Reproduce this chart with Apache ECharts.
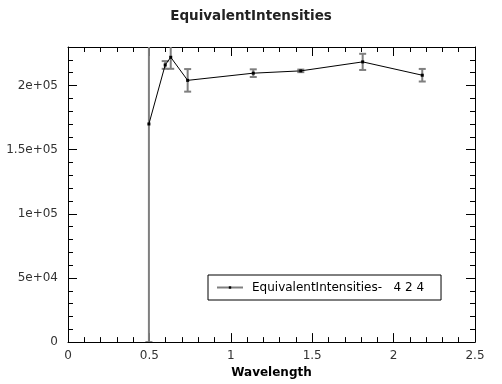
<!DOCTYPE html>
<html>
<head>
<meta charset="utf-8">
<script src="https://cdn.jsdelivr.net/npm/echarts@6/dist/echarts.min.js"></script>
<style>html,body{margin:0;padding:0;background:#fff}#c{width:502px;height:384px}</style>
</head>
<body>
<div id="c"></div>
<script>
const seriesName = 'EquivalentIntensities-   4 2 4';
const wavelength = [0.497, 0.597, 0.631, 0.735, 1.138, 1.43, 1.81, 2.176];
const intensity  = [170000, 216000, 222000, 204000, 209600, 211400, 218400, 208000];
const errors     = [170000, 3000, 9000, 8800, 3000, 1000, 6300, 4900];
const yTickValues = [0, 50000, 100000, 150000, 200000];
const yTickLabels = ['0', '5e+04', '1e+05', '1.5e+05', '2e+05'];
const xTickValues = [0, 0.5, 1, 1.5, 2, 2.5];
const xTickLabels = ['0', '0.5', '1', '1.5', '2', '2.5'];

const FONT = 'DejaVu Sans';
const chart = echarts.init(document.getElementById('c'));

const points = wavelength.map((x, i) => [x, intensity[i]]);
const errData = wavelength.map((x, i) => [x, intensity[i] - errors[i], intensity[i] + errors[i]]);

function yFmt(v) { const i = yTickValues.indexOf(v); return i >= 0 ? yTickLabels[i] : ''; }
function xFmt(v) { const i = xTickValues.findIndex(t => Math.abs(t - v) < 1e-9); return i >= 0 ? xTickLabels[i] : ''; }

const tickStyle = { lineStyle: { color: '#000', width: 1 } };
const baseX = {
  type: 'value', min: 0, max: 2.5, interval: 0.5,
  axisLine: { show: true, onZero: false, lineStyle: { color: '#000', width: 1 } },
  axisTick: { show: true, inside: true, length: 9, ...tickStyle },
  minorTick: { show: true, splitNumber: 5, length: 5, ...tickStyle },
  splitLine: { show: false }
};
const baseY = {
  type: 'value', min: 0, max: 230000, interval: 50000,
  axisLine: { show: true, onZero: false, lineStyle: { color: '#000', width: 1 } },
  axisTick: { show: true, inside: true, length: 9, ...tickStyle },
  minorTick: { show: true, splitNumber: 5, length: 5, ...tickStyle },
  splitLine: { show: false }
};

chart.setOption({
  animation: false,
  backgroundColor: '#fff',
  title: {
    text: 'EquivalentIntensities', left: 'center', top: 4,
    textStyle: { fontFamily: FONT, fontWeight: 'bold', fontSize: 13.5, color: '#222' }
  },
  grid: { left: 68, right: 27, top: 47, bottom: 40 },
  legend: {
    data: [seriesName], left: 208, top: 275,
    borderColor: '#000', borderWidth: 1, borderRadius: 0,
    padding: [6, 17, 6, 8],
    itemWidth: 26, itemHeight: 3, itemGap: 0,
    lineStyle: { color: '#7f7f7f', width: 2 },
    itemStyle: { color: '#000' },
    textStyle: { fontFamily: FONT, fontSize: 12, color: '#000', padding: [0, 0, 0, 4], lineHeight: 13 }
  },
  xAxis: [
    { ...baseX, position: 'bottom', name: 'Wavelength', nameLocation: 'middle', nameGap: 22,
      nameTextStyle: { fontFamily: FONT, fontWeight: 'bold', fontSize: 12, color: '#000' },
      axisLabel: { fontFamily: FONT, fontSize: 12, color: '#333', margin: 8, formatter: xFmt } },
    { ...baseX, position: 'top', axisLabel: { show: false } }
  ],
  yAxis: [
    { ...baseY, position: 'left',
      axisLabel: { fontFamily: FONT, fontSize: 12, color: '#333', margin: 10, formatter: yFmt } },
    { ...baseY, position: 'right', axisLabel: { show: false } }
  ],
  series: [
    {
      type: 'custom', name: 'err', xAxisIndex: 0, yAxisIndex: 0, clip: true, z: 1,
      data: errData,
      renderItem: function (params, api) {
        const x = api.value(0);
        const lo = api.coord([x, api.value(1)]);
        const hi = api.coord([x, api.value(2)]);
        const cs = params.coordSys;
        const top = cs.y, bot = cs.y + cs.height;
        const yHi = Math.max(hi[1], top - 6), yLo = Math.min(lo[1], bot);
        const w = 3.5;
        const style = { stroke: '#7f7f7f', lineWidth: 2 };
        const children = [
          { type: 'line', shape: { x1: lo[0], y1: yLo, x2: hi[0], y2: yHi }, style }
        ];
        if (hi[1] >= top) children.push({ type: 'line', shape: { x1: hi[0] - w, y1: hi[1], x2: hi[0] + w, y2: hi[1] }, style });
        if (lo[1] <= bot) children.push({ type: 'line', shape: { x1: lo[0] - w, y1: lo[1], x2: lo[0] + w, y2: lo[1] }, style });
        return { type: 'group', children };
      }
    },
    {
      type: 'line', name: seriesName, data: points, z: 3,
      symbol: 'rect', symbolSize: 3, showSymbol: true,
      lineStyle: { color: '#000', width: 1 },
      itemStyle: { color: '#000' }
    }
  ]
});
</script>
</body>
</html>
